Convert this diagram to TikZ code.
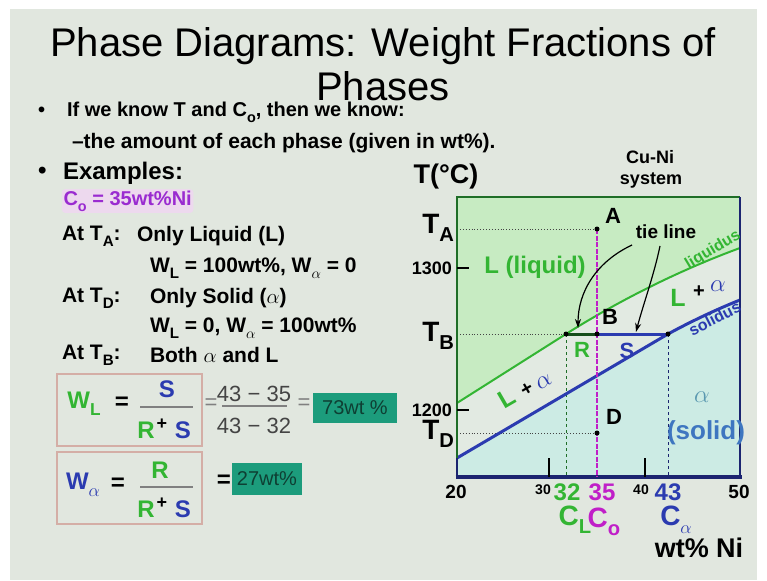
\documentclass[tikz,border=0pt]{standalone}
\usepackage{fontspec}
\setmainfont{Liberation Sans}
\usepackage{graphicx}
\usetikzlibrary{arrows.meta}
\definecolor{slidebg}{HTML}{E1E7DF}
\definecolor{liqfill}{HTML}{C7EBC2}
\definecolor{mixfill}{HTML}{E2EAE2}
\definecolor{solfill}{HTML}{CCEBE4}
\definecolor{lgreen}{HTML}{33B533}
\definecolor{dgreen}{HTML}{1F6E27}
\definecolor{lblue}{HTML}{2B3BB0}
\definecolor{navy}{HTML}{1B2470}
\definecolor{mag}{HTML}{C01FC8}
\definecolor{purp}{HTML}{9A2BD0}
\definecolor{pinkglow}{HTML}{EDD9EE}
\definecolor{tealbox}{HTML}{1C9C7C}
\definecolor{tealtext}{HTML}{0E3F33}
\definecolor{boxline}{HTML}{D4AEA6}
\definecolor{alphac}{HTML}{5A98B0}
\definecolor{solidc}{HTML}{3E76C0}
\definecolor{graytxt}{HTML}{444444}
\newcommand\fsz[1]{\fontsize{#1}{#1}\selectfont}
\newcommand\sbx[1]{\raisebox{-0.3em}{\scalebox{0.72}{#1}}}
\begin{document}
\begin{tikzpicture}[x=1pt,y=-1pt,
  txt/.style={inner sep=0pt,outer sep=0pt},
  body/.style={txt,anchor=west,font=\fsz{21}\bfseries},
  eqbig/.style={txt,font=\fsz{24}\bfseries},
  dotline/.style={graytxt,dotted,line width=0.9},
  eqbox/.style={draw=boxline,line width=1.2,minimum width=145,minimum height=72,inner sep=0pt},
  ansbox/.style={fill=tealbox,text=tealtext,inner sep=0pt,font=\fsz{20}},
  arr/.style={-{Stealth[length=9pt,width=6pt]},line width=1.2}]
\useasboundingbox (0,0) rectangle (767,580);
\fill[white] (0,0) rectangle (767,580);
\fill[slidebg] (10,9) rectangle (757,580);

% ---- title
\node[txt] (title1) at (383,46) {\fsz{40}Phase Diagrams: Weight Fractions of};
\node[txt] (title2) at (383,86) {\fsz{40}Phases};

% ---- bullets
\node[body] (dot1) at (38,112) {\fsz{20}•};
\node[body] (b1) at (67,112) {\fsz{20}If we know T and C\sbx{o}, then we know:};
\node[body] (b2) at (72,143) {–the amount of each phase (given in wt\%).};
\node[body] (dot2) at (38,173) {\fsz{24}•};
\node[body] (ex) at (63,173) {\fsz{24}Examples:};
\node[body,fill=pinkglow,rounded corners=3pt,inner sep=1.5pt,text=purp] (co) at (62,201) {\fsz{20}C\sbx{o} = 35wt\%Ni};
\node[body] (ata) at (62,236) {At T\sbx{A}:};
\node[body] (ata2) at (137,236) {Only Liquid (L)};
\node[body] (wl1) at (150,268) {W\sbx{L} = 100wt\%, W\sbx{$\alpha$} = 0};
\node[body] (atd) at (62,298) {At T\sbx{D}:};
\node[body] (atd2) at (150,298) {Only Solid ($\alpha$)};
\node[body] (wl2) at (150,328) {W\sbx{L} = 0, W\sbx{$\alpha$} = 100wt\%};
\node[body] (atb) at (62,355) {At T\sbx{B}:};
\node[body] (atb2) at (150,355) {Both $\alpha$ and L};

% ---- equation box 1
\node[eqbox] (box1) at (129.5,410) {};
\node[eqbig,lgreen] (wl) at (84,404) {W\sbx{L}};
\node[eqbig] (eq1) at (122,403) {=};
\node[eqbig,lblue] (n1) at (167,389) {S};
\draw[gray,line width=1.2] (140,407) -- (193,407);
\node[eqbig,lgreen] (d1r) at (146,430) {R};
\node[txt,font=\fsz{18}\bfseries] (d1p) at (162,424) {+};
\node[eqbig,lblue] (d1s) at (183,430) {S};
\node[txt,gray,font=\fsz{22}] (eq2) at (211,404) {=};
\node[txt,graytxt,font=\fsz{22}] (num2) at (254,394) {43 \char"2212\ 35};
\draw[gray,line width=1.2] (222,406) -- (287,406);
\node[txt,graytxt,font=\fsz{22}] (den2) at (254,426) {43 \char"2212\ 32};
\node[txt,gray,font=\fsz{22}] (eq3) at (304,404) {=};
\node[ansbox,minimum width=84,minimum height=30] (ans1) at (355,408) {73wt \%};

% ---- equation box 2
\node[eqbox] (box2) at (129.5,488) {};
\node[eqbig,lblue] (wa) at (83,485) {W\sbx{$\alpha$}};
\node[eqbig] (eq4) at (118,484) {=};
\node[eqbig,lgreen] (n3) at (160,470) {R};
\draw[gray,line width=1.2] (140,487) -- (193,487);
\node[eqbig,lgreen] (d3r) at (146,509) {R};
\node[txt,font=\fsz{18}\bfseries] (d3p) at (162,503) {+};
\node[eqbig,lblue] (d3s) at (183,509) {S};
\node[eqbig] (eq5) at (224,481) {=};
\node[ansbox,minimum width=70,minimum height=32] (ans2) at (267,479) {27wt\%};

% ---- phase diagram regions
\fill[liqfill] (457,197) -- (740,197) -- (740,248) .. controls (680,270) and (620,300) .. (566,334) -- (457,403) -- cycle;
\fill[mixfill] (457,403) -- (566,334) .. controls (620,300) and (680,270) .. (740,248) -- (740,300) .. controls (715,310) and (690,322) .. (668,335) -- (457,458) -- cycle;
\fill[solfill] (457,458) -- (668,335) .. controls (690,322) and (715,310) .. (740,300) -- (740,477) -- (457,477) -- cycle;

% key points
\coordinate (A) at (597,229);
\coordinate (R) at (566,334);
\coordinate (Bp) at (597,334);
\coordinate (S) at (668,334);
\coordinate (D) at (597,433);
\coordinate (LA) at (457,229);
\coordinate (LB) at (457,334);
\coordinate (LD) at (457,433);
\coordinate (botR) at (566,477);
\coordinate (botC) at (597,477);
\coordinate (botS) at (668,477);

% dotted / dashed guide lines
\draw[dotline] (LA) -- (A);
\draw[dotline] (LB) -- (R);
\draw[dotline] (LD) -- (D);
\draw[dgreen,dashed,line width=0.9] (R) -- (botR);
\draw[navy,dashed,line width=0.9] (S) -- (botS);

% liquidus and solidus
\draw[lgreen,line width=2] (457,403) -- (R) .. controls (620,300) and (680,270) .. (740,248);
\draw[lblue,line width=3] (457,458) -- (S) .. controls (690,322) and (715,310) .. (740,300);

% frame
\draw[dgreen,line width=1.6] (457,458) -- (457,197) -- (740,197);
\draw[navy,line width=1.6] (740,197) -- (740,477);
\draw[navy,line width=1.6] (457,458) -- (457,477);
\draw[navy,line width=3.2] (455.5,477) -- (741.5,477);

% ticks
\draw[black,line width=1.2] (457,268) -- (469,268);
\draw[black,line width=1.2] (457,410) -- (469,410);
\draw[black,line width=1.2] (549,477) -- (549,458);
\draw[black,line width=1.2] (645,477) -- (645,458);

% composition line C0
\draw[mag,line width=1.8,dash pattern=on 5pt off 1.5pt] (A) -- (botC);

% tie line
\draw[dgreen!70!black,line width=3] (R) -- (Bp);
\draw[lblue,line width=3] (Bp) -- (S);

% points
\foreach \p in {A,R,Bp,S,D} \fill (\p) circle (2.5);

% point labels
\node[txt,font=\fsz{22}\bfseries] (lA) at (613,216) {A};
\node[txt,font=\fsz{22}\bfseries] (lB) at (610,317) {B};
\node[txt,font=\fsz{22}\bfseries] (lD) at (614,417) {D};
\node[txt,lgreen,font=\fsz{22}\bfseries] (lR) at (582,350) {R};
\node[txt,lblue,font=\fsz{22}\bfseries] (lS) at (627,351) {S};

% tie line label and arrows
\node[txt,font=\fsz{19}\bfseries] (tl) at (666,232) {tie line};
\coordinate (t1s) at (632,245);
\coordinate (t1e) at (578,328);
\coordinate (t2s) at (660,246);
\coordinate (t2e) at (636,332);
\draw[arr] (t1s) .. controls (596,262) and (578,292) .. (t1e);
\draw[arr] (t2s) .. controls (654,275) and (643,305) .. (t2e);

% region labels
\node[txt,lgreen,font=\fsz{16}\bfseries,rotate=31] (liqlab) at (713,250) {liquidus};
\node[txt,lblue,font=\fsz{16}\bfseries,rotate=27,anchor=north] (sollab) at (712,313) {solidus};
\node[txt,lgreen,font=\fsz{24}\bfseries] (liq) at (535,267) {L (liquid)};
\node[txt,lgreen,font=\fsz{25}\bfseries] (uL) at (678,298) {L};
\node[txt,font=\fsz{20}\bfseries] (uP) at (699,292) {+};
\node[txt,lblue,font=\fsz{24}] (uA) at (718,286) {$\alpha$};
\node[txt,lgreen,font=\fsz{25}\bfseries,rotate=30] (lL) at (507,398) {L};
\node[txt,font=\fsz{20}\bfseries,rotate=30] (lP) at (527,389) {+};
\node[txt,lblue,font=\fsz{24},rotate=30] (lAl) at (544,382) {$\alpha$};
\node[txt,alphac,font=\fsz{24}] (sa) at (702,397) {$\alpha$};
\node[txt,solidc,font=\fsz{26}\bfseries] (sol) at (706,433) {(solid)};

% axis labels
\node[txt,font=\fsz{27}\bfseries] (Tc) at (446,177) {T(°C)};
\node[txt,font=\fsz{18}\bfseries] (cuni) at (650,157) {Cu-Ni};
\node[txt,font=\fsz{18}\bfseries] (sys) at (651,180) {system};
\node[txt,anchor=east,font=\fsz{28}\bfseries] (TA) at (454,228) {T\sbx{A}};
\node[txt,anchor=east,font=\fsz{28}\bfseries] (TB) at (454,336) {T\sbx{B}};
\node[txt,anchor=east,font=\fsz{28}\bfseries] (TD) at (454,434) {T\sbx{D}};
\node[txt,anchor=east,font=\fsz{18}\bfseries] (t1300) at (452,268) {1300};
\node[txt,anchor=east,font=\fsz{18}\bfseries] (t1200) at (452,410) {1200};

\node[txt,font=\fsz{19}\bfseries] (x20) at (456,492) {20};
\node[txt,font=\fsz{14}\bfseries] (x30) at (543,490) {30};
\node[txt,lgreen,font=\fsz{24}\bfseries] (x32) at (567,492) {32};
\node[txt,mag,font=\fsz{24}\bfseries] (x35) at (602,492) {35};
\node[txt,font=\fsz{14}\bfseries] (x40) at (641,490) {40};
\node[txt,lblue,font=\fsz{24}\bfseries] (x43) at (668,492) {43};
\node[txt,font=\fsz{19}\bfseries] (x50) at (739,492) {50};
\node[txt,lgreen,font=\fsz{28}\bfseries] (cl) at (575,520) {C\sbx{L}};
\node[txt,mag,font=\fsz{28}\bfseries] (co2) at (604,522) {C\sbx{o}};
\node[txt,lblue,font=\fsz{28}\bfseries] (ca) at (676,520) {C\sbx{$\alpha$}};
\node[txt,font=\fsz{27}\bfseries] (wtni) at (699,548) {wt\% Ni};
\end{tikzpicture}
\end{document}
